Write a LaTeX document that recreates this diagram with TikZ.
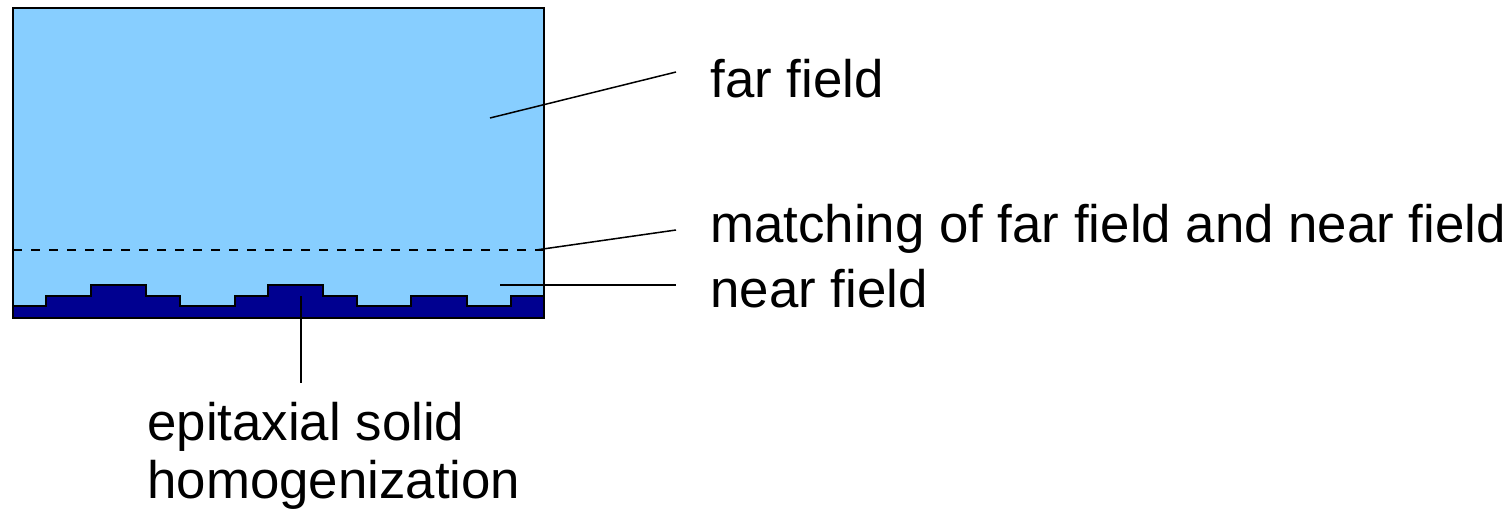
\documentclass[tikz,border=0pt]{standalone}
\usepackage{fontspec}
\setmainfont{Liberation Sans}
\usetikzlibrary{positioning}
\definecolor{fluid}{HTML}{87CEFF}
\definecolor{film}{HTML}{000090}
\tikzset{
  lbl/.style  ={font=\fontsize{26.4pt}{31pt}\selectfont, inner sep=0pt, anchor=base west},
  lead/.style ={draw=black, line width=0.75pt},
  edge/.style ={draw=black, line width=1pt},
  match/.style={draw=black, line width=0.9pt, dashed, dash pattern=on 4.5pt off 4.5pt},
}

\begin{document}
\begin{tikzpicture}[x=0.5pt,y=-0.5pt]
  \useasboundingbox (0,0) rectangle (1512,509);
  % fluid region
  \path[fill=fluid] (13,8) rectangle (544,318);
  % stepped epitaxial film
  \path[fill=film,draw=black,line width=1pt]
        (13,306) -- (46,306) -- (46,296) -- (91,296) -- (91,285) -- (146,285)
        -- (146,296) -- (180,296) -- (180,306) -- (235,306) -- (235,296)
        -- (268,296) -- (268,285) -- (323,285) -- (323,296) -- (357,296)
        -- (357,306) -- (411,306) -- (411,296) -- (467,296) -- (467,306)
        -- (511,306) -- (511,296) -- (544,296) -- (544,318) -- (13,318) -- cycle;
  \draw[edge] (13,8) rectangle (544,318);
  \coordinate (mleft)  at (13,250);
  \coordinate (mright) at (544,250);
  \draw[match] (mleft) -- (mright);

  \node[lbl] (far)  at (710,97)  {far field};
  \node[lbl] (mtch) at (710,242) {matching of far field and near field};
  \node[lbl] (near) at (710,307) {near field};
  \node[lbl] (epi)  at (147,440) {epitaxial solid};
  \node[lbl] (hom)  at (147,498) {homogenization};

  \coordinate (farpt)  at (490,118);
  \coordinate (farend) at (676,72);
  \coordinate (mpt)    at (536,250);
  \coordinate (mend)   at (676,230);
  \coordinate (npt)    at (500,285);
  \coordinate (nend)   at (676,285);
  \coordinate (spt)    at (301,296);
  \coordinate (send)   at (301,383);
  \draw[lead] (farpt) -- (farend);
  \draw[lead] (mpt) -- (mend);
  \draw[lead] (npt) -- (nend);
  \draw[lead] (spt) -- (send);
\end{tikzpicture}
\end{document}
